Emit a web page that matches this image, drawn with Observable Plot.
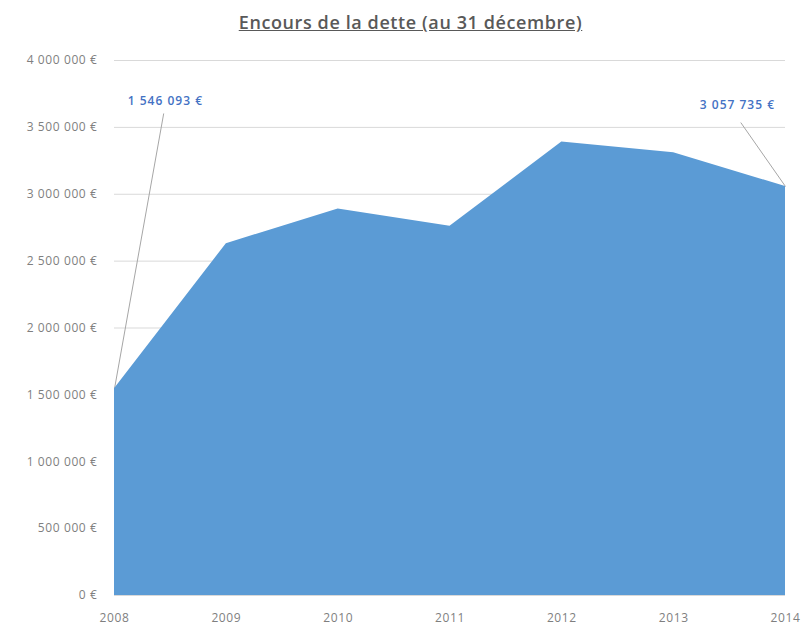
<!DOCTYPE html>
<html>
<head>
<meta charset="utf-8">
<script src="https://cdn.jsdelivr.net/npm/d3@7"></script>
<script src="https://cdn.jsdelivr.net/npm/@observablehq/plot@0.6"></script>
<style>
  body { margin: 0; background: #fff; }
  #title { height: 40px; width: 805px; text-align: center; font-family: "Open Sans", sans-serif; font-size: 18px; font-weight: 600; color: #595959; text-decoration: underline; line-height: 44px; padding-left: 16px; box-sizing: border-box; letter-spacing: 0.6px; }
</style>
</head>
<body>
<div id="title">Encours de la dette (au 31 décembre)</div>
<div id="chart"></div>
<script>
const years = [2008, 2009, 2010, 2011, 2012, 2013, 2014];
const values = [1546093, 2630000, 2890000, 2760000, 3390000, 3310000, 3057735];
const yTicks = [0, 500000, 1000000, 1500000, 2000000, 2500000, 3000000, 3500000, 4000000];
const labelYears = [2008, 2014];
const labelTexts = ["1 546 093 €", "3 057 735 €"];
const labelLineYears = [2008.44, 2013.6];
const labelLineValues = [3604000, 3536000];
const labelTextYears = [2008.455, 2013.57];
const labelTextValues = [3693000, 3664000];

const data = years.map((y, i) => ({year: y, value: values[i]}));
const notes = labelYears.map((y, i) => ({
  year: y, value: values[years.indexOf(y)], text: labelTexts[i],
  lx: labelLineYears[i], ly: labelLineValues[i],
  tx: labelTextYears[i], ty: labelTextValues[i]
}));

const fmt = d => d3.format(",")(d).replace(/,/g, " ") + " €";

const chart = Plot.plot({
  width: 805,
  height: 586,
  marginTop: 20,
  marginBottom: 31,
  marginLeft: 114,
  marginRight: 20,
  style: {fontFamily: "'Open Sans', sans-serif", color: "#7F7F7F", background: "#fff"},
  x: {domain: [2008, 2014], ticks: years, tickFormat: "d", tickSize: 0, tickPadding: 18, label: null},
  y: {domain: [0, 4000000], ticks: yTicks, tickFormat: fmt, tickSize: 0, tickPadding: 17, label: null},
  marks: [
    Plot.gridY(yTicks, {stroke: "#D9D9D9", strokeOpacity: 1}),
    Plot.link(notes, {x1: "year", y1: "value", x2: "lx", y2: "ly", stroke: "#A6A6A6", strokeWidth: 1}),
    Plot.areaY(data, {x: "year", y: "value", fill: "#5B9BD5"}),
    Plot.text(notes, {x: "tx", y: "ty", text: "text", fill: "#4472C4", fontSize: 12, fontWeight: 600})
  ]
});
chart.querySelectorAll("g[aria-label='y-axis tick label'] text, g[aria-label='x-axis tick label'] text").forEach(t => {
  t.setAttribute("font-size", "12");
  t.setAttribute("letter-spacing", "0.6");
});
chart.querySelectorAll("g[aria-label='text'] text").forEach(t => t.setAttribute("letter-spacing", "1"));
document.getElementById("chart").appendChild(chart);
</script>
</body>
</html>
